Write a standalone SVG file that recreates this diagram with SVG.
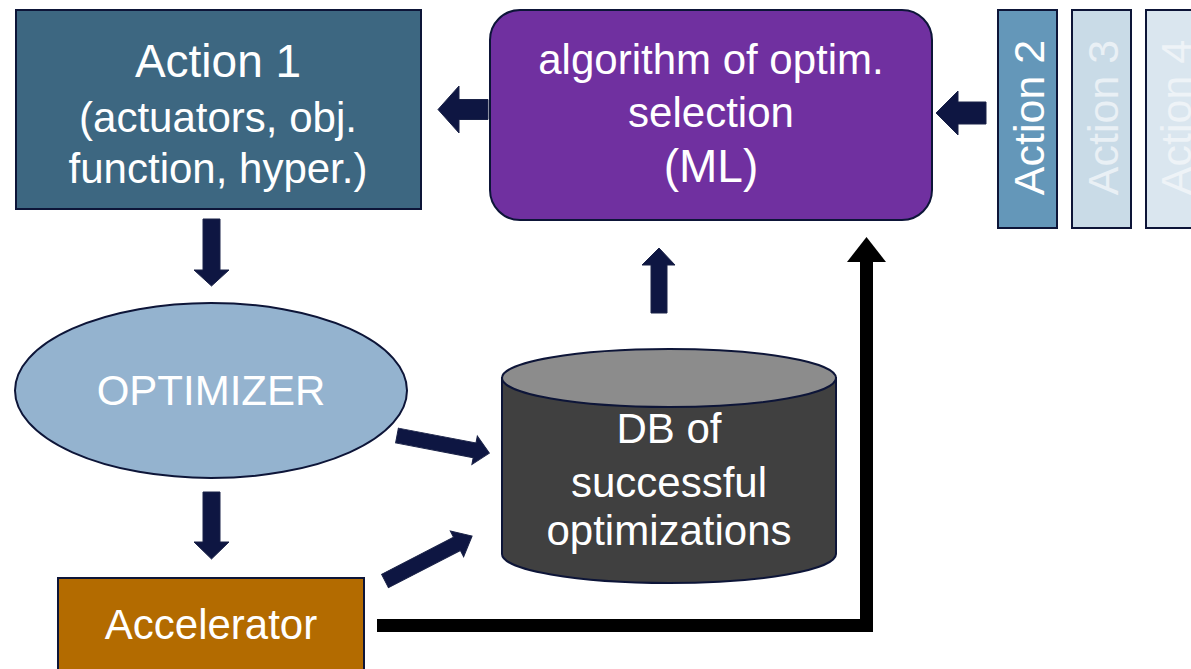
<svg xmlns="http://www.w3.org/2000/svg" width="1191" height="669" viewBox="0 0 1191 669">
<style>
.t{font-family:"Liberation Sans",Arial,sans-serif;fill:#ffffff;text-anchor:middle}
.nd{stroke:#0d1538;stroke-width:2}
.arr{fill:#0e1642;stroke:#1b2348;stroke-width:1}
</style>
<rect width="1191" height="669" fill="#ffffff"/>
<g id="action1">
<rect class="nd" x="16" y="10" width="405" height="199" fill="#3d6781"/>
<text class="t" x="218" y="77" font-size="46">Action 1</text>
<text class="t" x="218" y="132" font-size="42">(actuators, obj.</text>
<text class="t" x="218" y="183" font-size="42">function, hyper.)</text>
</g>
<g id="selection">
<rect class="nd" x="490" y="10" width="442" height="210" rx="30" ry="30" fill="#7030a0"/>
<text class="t" x="711" y="74" font-size="42">algorithm of optim.</text>
<text class="t" x="711" y="127" font-size="42">selection</text>
<text class="t" x="711" y="182" font-size="46">(ML)</text>
</g>
<g id="action2">
<rect class="nd" x="998" y="10" width="59" height="218" fill="#6497b9"/>
<text class="t" transform="translate(1044,117.5) rotate(-90)" font-size="43">Action 2</text>
</g>
<g id="action3">
<rect class="nd" x="1072" y="10" width="59" height="218" fill="#c9dbe7"/>
<text class="t" transform="translate(1118,117.5) rotate(-90)" font-size="43" style="fill:#e9f0f5">Action 3</text>
</g>
<g id="action4">
<rect class="nd" x="1146" y="10" width="59" height="218" fill="#dae6ef"/>
<text class="t" transform="translate(1191,117.5) rotate(-90)" font-size="43" style="fill:#eef3f7">Action 4</text>
</g>
<g id="optimizer">
<ellipse class="nd" cx="211" cy="390.5" rx="196" ry="87.5" fill="#94b3cf"/>
<text class="t" x="211" y="405" font-size="42">OPTIMIZER</text>
</g>
<g id="db">
<path class="nd" d="M502,378 L502,554 A167,29 0 0 0 836,554 L836,378 Z" fill="#404040"/>
<ellipse class="nd" cx="669" cy="378" rx="167" ry="29" fill="#8c8c8c"/>
<text class="t" x="669" y="443" font-size="42">DB of</text>
<text class="t" x="669" y="497" font-size="42">successful</text>
<text class="t" x="669" y="545" font-size="42">optimizations</text>
</g>
<g id="accelerator">
<rect class="nd" x="58" y="578" width="306" height="110" fill="#b36b00"/>
<text class="t" x="211" y="639" font-size="42">Accelerator</text>
</g>
<g id="connectors">
<polygon class="arr" points="488,99.5 459,99.5 459,86 438,109.5 459,133 459,119.5 488,119.5"/>
<polygon class="arr" points="986,102 958,102 958,91 936,113 958,135 958,124 986,124"/>
<polygon class="arr" points="203,219 220,219 220,270 229,270 211.5,286 194,270 203,270"/>
<polygon class="arr" points="203,492 220,492 220,542 229,542 211.5,559 194,542 203,542"/>
<polygon class="arr" points="651,313 667,313 667,265 675,265 659,248 642,265 651,265"/>
<polygon class="arr" transform="translate(397,435.5) rotate(10.8)" points="0,-7.5 79,-7.5 79,-14.5 94,0 79,14.5 79,7.5 0,7.5"/>
<polygon class="arr" transform="translate(385,581) rotate(-27.3)" points="0,-7.5 81,-7.5 81,-14.5 98,0 81,14.5 81,7.5 0,7.5"/>
<polyline points="377,625.5 866.5,625.5 866.5,261" fill="none" stroke="#000000" stroke-width="13"/>
<polygon points="847,262 886,262 866.5,237" fill="#000000"/>
</g>
</svg>
